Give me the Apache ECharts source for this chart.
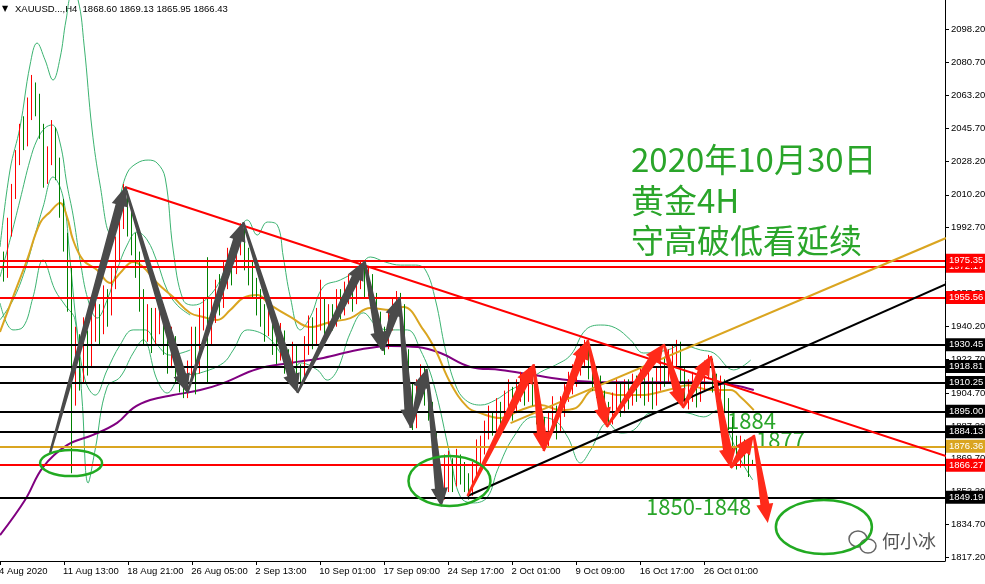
<!DOCTYPE html>
<html>
<head>
<meta charset="utf-8">
<script src="https://cdn.jsdelivr.net/npm/echarts@6/dist/echarts.min.js"></script>
<style>
  html, body { margin: 0; padding: 0; background: #fff; }
  #chart { width: 985px; height: 584px; }
</style>
</head>
<body>
<div id="chart"></div>
<script>
// XAUUSD H4 bars (open = previous close)
const firstOpen = 1978;
const closes = [
  1975,1968,1992,2012,2030,2044,2040,2056,2066,2058,
  2045,2020,2030,2042,2024,2005,1985,1960,1905,1925,
  1915,1930,1922,1940,1948,1940,1955,1950,1965,1980,
  1998,2010,1995,1985,1975,1955,1938,1945,1935,1942,
  1948,1932,1925,1930,1918,1912,1906,1915,1935,1920,
  1945,1950,1935,1948,1960,1955,1968,1975,1972,1985,
  1990,1978,1970,1962,1955,1948,1940,1945,1932,1928,
  1935,1922,1918,1925,1915,1912,1930,1940,1935,1945,
  1950,1940,1948,1945,1955,1950,1958,1962,1955,1965,
  1970,1962,1966,1955,1945,1932,1930,1942,1950,1955,
  1948,1925,1905,1890,1905,1915,1905,1898,1880,1862,
  1850,1858,1866,1860,1870,1864,1858,1852,1862,1870,
  1876,1885,1890,1888,1896,1893,1900,1905,1898,1907,
  1910,1905,1912,1906,1895,1885,1880,1890,1895,1888,
  1898,1905,1910,1915,1920,1925,1928,1920,1915,1910,
  1902,1895,1892,1900,1905,1898,1908,1903,1910,1906,
  1912,1905,1910,1902,1912,1918,1915,1922,1926,1930,
  1915,1900,1905,1910,1903,1912,1918,1922,1912,1906,
  1910,1900,1890,1875,1868,1878,1872,1868.6,1866.43
];
const highs = [
  1982,1980,1998,2016,2034,2048,2052,2062,2074,2070,
  2064,2048,2036,2050,2046,2030,2008,1990,1972,1940,
  1936,1945,1938,1948,1958,1952,1962,1960,1972,1988,
  2004,2016,2012,2002,1990,1980,1960,1952,1950,1950,
  1955,1952,1938,1940,1935,1925,1918,1922,1940,1940,
  1950,1955,1977,1955,1965,1968,1975,1982,1980,1990,
  1995,1993,1982,1975,1966,1960,1952,1952,1948,1938,
  1942,1938,1928,1932,1930,1920,1935,1946,1945,1950,
  1965,1955,1952,1952,1960,1960,1964,1968,1966,1970,
  1975,1974,1972,1968,1958,1948,1940,1948,1955,1959,
  1958,1952,1928,1910,1912,1920,1918,1908,1900,1884,
  1866,1872,1874,1870,1875,1872,1868,1862,1868,1880,
  1882,1890,1898,1895,1902,1900,1906,1912,1908,1912,
  1916,1914,1918,1915,1910,1900,1892,1895,1903,1898,
  1903,1910,1916,1920,1925,1930,1933,1932,1924,1918,
  1914,1906,1900,1905,1912,1910,1912,1912,1915,1914,
  1918,1915,1916,1913,1918,1922,1924,1928,1930,1933,
  1932,1918,1912,1916,1913,1917,1922,1925,1923,1915,
  1914,1912,1902,1892,1882,1882,1880,1876,1869.13
];
const lows = [
  1966,1964,1966,1988,2008,2026,2034,2036,2050,2052,
  2040,2014,2016,2026,2018,1998,1980,1948,1862,1898,
  1906,1910,1914,1918,1932,1930,1936,1940,1946,1960,
  1975,1992,1988,1978,1966,1948,1930,1932,1926,1930,
  1936,1925,1915,1918,1910,1905,1902,1902,1910,1904,
  1915,1938,1910,1930,1942,1946,1950,1960,1962,1968,
  1978,1970,1962,1955,1946,1940,1932,1935,1925,1920,
  1922,1915,1912,1912,1910,1907,1910,1925,1928,1930,
  1938,1934,1935,1938,1940,1944,1946,1952,1948,1952,
  1960,1955,1956,1948,1938,1928,1925,1928,1938,1945,
  1940,1918,1898,1885,1886,1900,1898,1890,1874,1856,
  1845,1848,1852,1852,1855,1856,1852,1848,1850,1858,
  1865,1872,1880,1882,1884,1886,1890,1895,1890,1894,
  1900,1898,1900,1898,1888,1880,1875,1876,1884,1880,
  1884,1892,1900,1904,1908,1914,1918,1912,1906,1902,
  1896,1890,1887,1888,1895,1892,1894,1896,1898,1900,
  1902,1898,1900,1896,1898,1906,1908,1910,1915,1918,
  1910,1898,1896,1900,1897,1900,1906,1912,1905,1900,
  1902,1894,1885,1870,1864,1865,1866,1860,1865.95
];

// time axis
const slotCount = 237;
const labelEvery = 16;
const dateLabels = ['4 Aug 2020', '11 Aug 13:00', '18 Aug 21:00', '26 Aug 05:00', '2 Sep 13:00',
  '10 Sep 01:00', '17 Sep 09:00', '24 Sep 17:00', '2 Oct 01:00', '9 Oct 09:00', '16 Oct 17:00', '26 Oct 01:00'];
const priceTicks = [2098.2, 2080.7, 2063.2, 2045.7, 2028.2, 2010.2, 1992.7, 1975.2, 1957.7,
  1940.2, 1922.7, 1904.7, 1887.2, 1869.7, 1852.2, 1834.7, 1817.2];

// horizontal levels (drawn objects)
const levels = [1972.17, 1975.35, 1955.56, 1930.45, 1918.81, 1910.25, 1895.00, 1884.13, 1876.36, 1866.27, 1849.19];
const levelKinds = ['r', 'r', 'r', 'k', 'k', 'k', 'k', 'k', 'g', 'r', 'k'];

// indicators, traced as [bar, price]
const maGold = [[0,1937.2],[3.25,1955.8],[6.75,1975.5],[10,1995.2],[12.5,2001.1],[15,2005.8],[16.75,1998.4],
  [18.25,1986.2],[20.75,1975.5],[24.25,1970.2],[27.5,1963.3],[30,1968.6],[33.25,1974.4],[35.75,1971.8],
  [39.25,1963.3],[43.25,1955.8],[47.5,1947.3],[50.75,1945.2],[54.25,1943.6],[57.5,1948.9],[60.75,1955.3],
  [64.25,1956.9],[67.5,1951.6],[72.5,1945.2],[77.5,1939.8],[82.5,1942.5],[87.5,1944.6],[92.5,1949.9],
  [97.5,1948.9],[100.75,1950.5],[105.75,1938.3],[108.75,1927.6],[112.5,1910.0],[116.75,1897.2],[120,1894.0],
  [125,1891.4],[130,1895.6],[135,1898.3],[140,1895.6],[143.75,1896.7],[148.25,1906.3],[151.75,1904.7],
  [155,1903.6],[160,1903.6],[166.75,1906.3],[171.75,1908.9],[177.5,1906.3],[182.5,1906.3],[185,1902.5],[188.25,1895.6]];
const maPurple = [[0,1829.1],[6.25,1847.8],[10.75,1865.3],[16.75,1877.0],[23.25,1882.4],[29.25,1888.8],
  [33.25,1896.7],[37.5,1901.0],[43.25,1903.6],[50,1906.3],[55.75,1910.0],[64.25,1917.5],[72.5,1920.7],
  [80.75,1923.4],[89.25,1927.6],[97.5,1929.8],[104.25,1929.2],[110,1926.0],[117.5,1918.6],[125,1917.0],
  [133.25,1914.3],[141.75,1911.6],[150,1910.5],[162.5,1910.5],[175,1910.5],[183.25,1908.9],[188.25,1906.3]];
const bandUpper = [[0,1982.4],[2.5,2023.4],[5,2046.3],[7.5,2079.3],[9.25,2091.0],[11.25,2082.0],[13.25,2071.3],
  [15,2083.0],[16.5,2103.3],[18,2116.6],[19.5,2113.9],[21,2089.9],[23,2044.7],[25,2015.4],[27.5,1989.9],
  [29.5,2004.8],[31.75,2021.8],[34.25,2027.1],[37,2028.7],[39.25,2027.1],[41.25,2019.2],[43.25,1980.8],
  [45.75,1954.2],[48.25,1951.5],[51.25,1954.2],[55,1964.8],[58,1983.5],[60,1993.0],[61.75,1996.8],
  [64.25,1988.8],[66.75,1995.7],[69.25,1994.1],[70.75,1977.1],[72.5,1955.8],[75,1938.3],[77.5,1945.2],
  [80.75,1961.2],[85,1964.9],[89.25,1970.2],[92.5,1977.1],[96.25,1974.4],[100,1972.8],[103.75,1972.8],
  [106.25,1970.2],[108.75,1954.2],[111.25,1927.6],[113.75,1909.0],[116.25,1901.0],[120,1898.3],
  [123.75,1901.0],[127.5,1906.3],[131.25,1910.5],[135,1915.9],[138.75,1919.6],[142.5,1924.9],
  [146.25,1938.3],[150,1940.9],[153.75,1939.3],[157.5,1932.9],[160.75,1926.0],[166.75,1927.6],
  [170,1930.3],[175,1927.6],[178.25,1926.0],[183.25,1917.0],[187.5,1922.3]];
const bandLower = [[0,1952.6],[3.25,1938.3],[5.75,1939.8],[8.25,1955.8],[10.75,1975.5],[13.75,1959.5],
  [16.25,1951.5],[18.75,1943.6],[20.5,1901.0],[22,1856.8],[23.75,1874.4],[26.75,1907.9],[30,1913.2],
  [33.25,1926.0],[35.75,1933.0],[39.25,1911.6],[41.75,1904.7],[45,1913.2],[50,1915.4],[55.75,1920.7],
  [58.25,1927.6],[61.75,1938.3],[66.75,1934.6],[70.75,1923.9],[73.25,1917.0],[75,1920.7],[79.25,1917.0],
  [81.75,1911.6],[84.25,1917.0],[87.5,1936.8],[90.75,1947.4],[94.25,1940.0],[97.5,1938.3],[101.75,1938.3],
  [105,1927.6],[108.25,1910.0],[112.5,1870.6],[115,1849.4],[118.25,1846.2],[121.75,1849.4],[124.25,1863.8],
  [128.25,1881.3],[133.25,1892.0],[138.25,1890.4],[141.75,1881.3],[145,1867.5],[147.5,1874.4],
  [151.75,1888.8],[155,1883.4],[158.25,1885.0],[162.5,1894.1],[168.25,1894.6],[171.75,1894.1],
  [175.75,1892.0],[179.25,1895.6],[181.75,1885.0],[185,1869.0],[188,1858.4]];
// narrower band pair visible on the left part
const innerUpper = [[0,1966.5],[2.5,1986.2],[5,2007.4],[7.5,2028.7],[9.25,2039.4],[11.25,2045.8],[13,2047.4],
  [15,2037.8],[16.75,2015.4],[18.25,1999.4],[20,1975.5],[22,1954.2],[24.25,1944.6],[26.75,1954.2],
  [29.25,1970.2],[31.75,1983.5],[34.25,1990.4],[36.75,1986.2],[39.25,1974.4],[41.75,1959.5],[44.25,1951.5],[47.5,1946.2]];
const innerLower = [[0,1943.6],[3.25,1954.2],[6.25,1970.2],[8.75,1988.8],[10.75,2003.7],[13.25,2019.7],
  [15.75,2009.0],[17.5,1975.5],[19.25,1938.3],[21.25,1911.6],[23.75,1903.6],[26.75,1916.9],[30,1930.3],
  [33.25,1938.3],[36.25,1938.3],[39.25,1930.3],[42.5,1924.9],[47.5,1927.6]];

// drawn objects, [bar, price]
const redTrend = [[31.25, 2014.4], [236.25, 1871.2]];
const blackTrend = [[116.75, 1849.9], [236.25, 1962.7]];
const goldTrend = [[127.5, 1888.7], [236.25, 1987.2]];
const grayZigzag = [[12.5,1872.8],[31.25,2014.4],[46.75,1904.7],[60.75,1995.7],[74.25,1904.7],[91,1975.0],
  [95.5,1927.1],[99.75,1955.8],[102.5,1886.1],[106.5,1917.5],[110.25,1844.0]];
const redZigzag = [[116.75,1849.9],[133.25,1920.1],[135.75,1873.8],[146.75,1932.9],[151.5,1886.6],
  [165.75,1930.8],[170.5,1896.7],[177.5,1924.4],[182.5,1864.8],[188.25,1882.4],[191.75,1835.5]];
const ringCenters = [[17.75, 1867.4], [112.25, 1857.9], [205.75, 1833.4]];

const FONT = '"Liberation Sans", Arial, sans-serif';
const CJK = '"Noto Sans CJK SC", sans-serif';
const GREEN_TXT = '#2aa52a';
const kindColor = { r: '#ff0000', k: '#000000', g: '#daa520' };
const ringSize = [[31, 13], [41, 25], [48, 27]];

const candles = closes.map(function (c, i) {
  const o = i === 0 ? firstOpen : closes[i - 1];
  return [o, c, lows[i], highs[i]];
});
const slots = [];
for (let i = 0; i < slotCount; i++) slots.push(String(i));

function toSegments(path) {
  const out = [];
  for (let k = 0; k < path.length - 1; k++) {
    out.push([path[k][0], path[k][1], path[k + 1][0], path[k + 1][1]]);
  }
  return out;
}

function arrowRender(color) {
  return function (params, api) {
    const a = api.coord([api.value(0), api.value(1)]);
    const b = api.coord([api.value(2), api.value(3)]);
    const dx = b[0] - a[0], dy = b[1] - a[1];
    const len = Math.sqrt(dx * dx + dy * dy);
    const ux = dx / len, uy = dy / len, nx = -uy, ny = ux;
    const headLen = 19, headW = 8.5, w0 = 1.2, w1 = 4.5;
    const bx = b[0] - ux * headLen, by = b[1] - uy * headLen;
    return {
      type: 'polygon',
      shape: { points: [
        [a[0] + nx * w0, a[1] + ny * w0],
        [bx + nx * w1, by + ny * w1],
        [bx + nx * headW, by + ny * headW],
        [b[0], b[1]],
        [bx - nx * headW, by - ny * headW],
        [bx - nx * w1, by - ny * w1],
        [a[0] - nx * w0, a[1] - ny * w0]
      ] },
      style: { fill: color }
    };
  };
}

function isLabelSlot(i) {
  return i % labelEvery === 0 && i / labelEvery < dateLabels.length;
}

function plainLine(data, color, width) {
  return {
    type: 'line', xAxisIndex: 1, data: data, smooth: 0.4, symbol: 'none',
    lineStyle: { color: color, width: width }, silent: true, z: 3
  };
}

const chart = echarts.init(document.getElementById('chart'));
chart.setOption({
  animation: false,
  backgroundColor: '#ffffff',
  grid: { left: 0, right: 40, top: 0, bottom: 23, containLabel: false, outerBoundsMode: 'none' },
  xAxis: [{
    type: 'category',
    data: slots,
    boundaryGap: false,
    axisLine: { onZero: false, lineStyle: { color: '#000', width: 1 } },
    axisTick: { interval: isLabelSlot, length: 4, lineStyle: { color: '#000' } },
    axisLabel: {
      interval: isLabelSlot,
      formatter: function (v, i) { return isLabelSlot(i) ? dateLabels[i / labelEvery] : ''; },
      align: 'left', margin: 5, padding: [0, 0, 0, -1], color: '#000', fontSize: 9.5, fontFamily: FONT
    },
    splitLine: { show: false }
  }, {
    type: 'value', min: 0, max: slotCount - 1, show: false
  }],
  yAxis: {
    type: 'value',
    position: 'right',
    min: 1815.3,
    max: 2113.9,
    axisLine: { show: true, onZero: false, lineStyle: { color: '#000', width: 1 } },
    axisTick: { show: true, length: 4, customValues: priceTicks, lineStyle: { color: '#000' } },
    axisLabel: {
      customValues: priceTicks, margin: 6, color: '#000', fontSize: 9.5, fontFamily: FONT,
      formatter: function (v) { return v.toFixed(2); }
    },
    splitLine: { show: false }
  },
  series: [
    plainLine(bandUpper, '#3cb371', 1),
    plainLine(bandLower, '#3cb371', 1),
    plainLine(innerUpper, '#3cb371', 1),
    plainLine(innerLower, '#3cb371', 1),
    {
      type: 'candlestick',
      data: candles,
      barWidth: 1,
      z: 4,
      itemStyle: { color: '#ff0000', color0: '#008000', borderColor: '#ff0000', borderColor0: '#008000', borderWidth: 1 }
    },
    plainLine(maPurple, '#800080', 2),
    plainLine(maGold, '#daa520', 2),
    {
      type: 'line', xAxisIndex: 1, data: [], clip: false, z: 5,
      markLine: {
        symbol: 'none', silent: true, animation: false,
        data: levels.map(function (v, k) {
          const col = kindColor[levelKinds[k]];
          return {
            yAxis: v,
            lineStyle: { color: col, width: 2, type: 'solid' },
            label: {
              show: true, position: 'end', distance: 1,
              formatter: function () { return v.toFixed(2); },
              backgroundColor: col, color: '#fff', padding: [2, 2, 1, 3],
              fontSize: 9.5, fontFamily: FONT
            }
          };
        })
      }
    },
    Object.assign(plainLine(redTrend, '#ff0000', 2), { smooth: false, z: 6 }),
    Object.assign(plainLine(blackTrend, '#000000', 2), { smooth: false, z: 6 }),
    Object.assign(plainLine(goldTrend, '#daa520', 2), { smooth: false, z: 6 }),
    {
      type: 'custom', xAxisIndex: 1, data: toSegments(grayZigzag), z: 7, silent: true,
      encode: { x: [0, 2], y: [1, 3] },
      renderItem: arrowRender('#4a4a4a')
    },
    {
      type: 'custom', xAxisIndex: 1, data: toSegments(redZigzag), z: 7, silent: true,
      encode: { x: [0, 2], y: [1, 3] },
      renderItem: arrowRender('#ff2a1a')
    },
    {
      type: 'custom', xAxisIndex: 1, data: ringCenters, z: 8, silent: true,
      encode: { x: 0, y: 1 },
      renderItem: function (params, api) {
        const c = api.coord([api.value(0), api.value(1)]);
        const s = ringSize[params.dataIndex];
        return {
          type: 'ellipse',
          shape: { cx: c[0], cy: c[1], rx: s[0], ry: s[1] },
          style: { fill: 'none', stroke: '#22aa22', lineWidth: 2.5 }
        };
      }
    }
  ],
  graphic: [
    { type: 'text', x: 2, y: 5, style: { text: '▼', font: '8px "DejaVu Sans"', fill: '#000' } },
    { type: 'text', x: 15, y: 4, style: { text: 'XAUUSD...,H4  1868.60 1869.13 1865.95 1866.43', font: '9.5px ' + FONT, fill: '#000' } },
    { type: 'text', x: 631, y: 159, style: { text: '2020年10月30日', font: '33px ' + CJK, fill: GREEN_TXT, verticalAlign: 'middle' } },
    { type: 'text', x: 631, y: 200, style: { text: '黄金4H', font: '33px ' + CJK, fill: GREEN_TXT, verticalAlign: 'middle' } },
    { type: 'text', x: 631, y: 240, style: { text: '守高破低看延续', font: '33px ' + CJK, fill: GREEN_TXT, verticalAlign: 'middle' } },
    { type: 'text', x: 727, y: 421, style: { text: '1884', font: '22px ' + CJK, fill: GREEN_TXT, verticalAlign: 'middle' } },
    { type: 'text', x: 756, y: 440, style: { text: '1877', font: '22px ' + CJK, fill: GREEN_TXT, verticalAlign: 'middle' } },
    { type: 'text', x: 646, y: 507, style: { text: '1850-1848', font: '22px ' + CJK, fill: GREEN_TXT, verticalAlign: 'middle' } },
    { type: 'ellipse', shape: { cx: 858, cy: 539, rx: 9, ry: 8 }, style: { fill: '#fff', stroke: '#666', lineWidth: 1.5 } },
    { type: 'ellipse', shape: { cx: 868, cy: 546, rx: 8, ry: 7 }, style: { fill: '#fff', stroke: '#666', lineWidth: 1.5 } },
    { type: 'text', x: 882, y: 541, style: { text: '何小冰', font: '18px ' + CJK, fill: '#555', verticalAlign: 'middle' } }
  ]
});
</script>
</body>
</html>
